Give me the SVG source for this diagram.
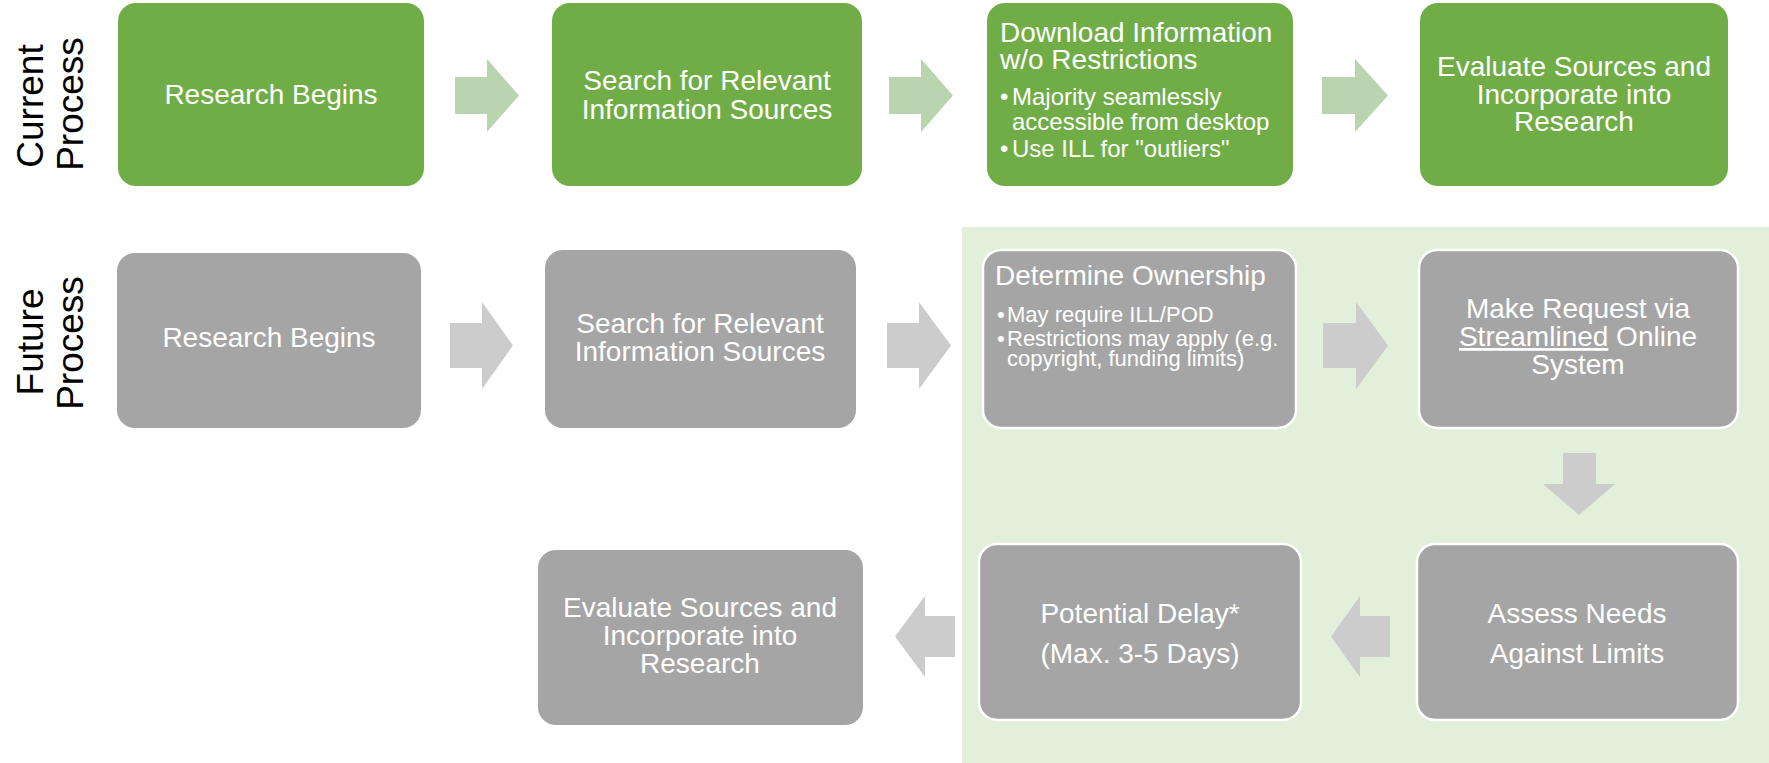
<svg xmlns="http://www.w3.org/2000/svg" width="1769" height="763" viewBox="0 0 1769 763">
<style>
text{font-family:"Liberation Sans",Arial,sans-serif;fill:#ffffff}
.lbl{fill:#000000;font-size:37px;text-anchor:middle}
.t{font-size:28px;text-anchor:middle}
.h{font-size:28px}
.b1{font-size:24px}
.b2{font-size:22px}
.g{fill:#70AD47}
.gr{fill:#A5A5A5}
.grw{fill:#A5A5A5;stroke:#ffffff;stroke-width:2.5}
.ga{fill:#BAD4AF}
.ya{fill:#CCCCCC}
</style>
<rect id="future-bg" x="962" y="227" width="807" height="536" fill="#E2EFDA"/>
<g id="labels">
<text class="lbl" transform="translate(43,106) rotate(-90)">Current</text>
<text class="lbl" transform="translate(83,104) rotate(-90)">Process</text>
<text class="lbl" transform="translate(43,342) rotate(-90)">Future</text>
<text class="lbl" transform="translate(83,343) rotate(-90)">Process</text>
</g>
<g id="connectors">
<path class="ga" d="M455,77 H487 V59 L519,95.5 L487,132 V114 H455 Z"/>
<path class="ga" d="M889,77 H921 V59 L953,95.5 L921,132 V114 H889 Z"/>
<path class="ga" d="M1322,77 H1355 V59 L1388,95.5 L1355,132 V114 H1322 Z"/>
<path class="ya" d="M450,323 H482 V302 L513,345.5 L482,389 V368 H450 Z"/>
<path class="ya" d="M887,323 H919 V302 L951,345.5 L919,389 V368 H887 Z"/>
<path class="ya" d="M1323,323 H1356 V302 L1388,345.5 L1356,389 V368 H1323 Z"/>
<path class="ya" d="M1563,453 H1596 V484 H1615 L1579,515 L1543,484 H1563 Z"/>
<path class="ya" d="M1390,616 H1360 V596 L1331,636.5 L1360,677 V657 H1390 Z"/>
<path class="ya" d="M955,616 H925 V596 L895,636.5 L925,677 V657 H955 Z"/>
</g>
<g id="c1">
<rect class="g" x="118" y="3" width="306" height="183" rx="18"/>
<text class="t" x="271" y="104">Research Begins</text>
</g>
<g id="c2">
<rect class="g" x="552" y="3" width="310" height="183" rx="18"/>
<text class="t" x="707" y="90">Search for Relevant</text>
<text class="t" x="707" y="119">Information Sources</text>
</g>
<g id="c3">
<rect class="g" x="987" y="3" width="306" height="183" rx="18"/>
<text class="h" x="1000" y="42">Download Information</text>
<text class="h" x="1000" y="69">w/o Restrictions</text>
<text class="b1" y="105"><tspan x="1000">•</tspan><tspan x="1012">Majority seamlessly</tspan></text>
<text class="b1" x="1012" y="130">accessible from desktop</text>
<text class="b1" y="157"><tspan x="1000">•</tspan><tspan x="1012">Use ILL for "outliers"</tspan></text>
</g>
<g id="c4">
<rect class="g" x="1420" y="3" width="308" height="183" rx="18"/>
<text class="t" x="1574" y="76">Evaluate Sources and</text>
<text class="t" x="1574" y="104">Incorporate into</text>
<text class="t" x="1574" y="131">Research</text>
</g>
<g id="f1">
<rect class="gr" x="117" y="253" width="304" height="175" rx="18"/>
<text class="t" x="269" y="347">Research Begins</text>
</g>
<g id="f2">
<rect class="gr" x="545" y="250" width="311" height="178" rx="18"/>
<text class="t" x="700" y="333">Search for Relevant</text>
<text class="t" x="700" y="361">Information Sources</text>
</g>
<g id="f3">
<rect class="grw" x="983" y="250" width="313" height="178" rx="18"/>
<text class="h" x="995" y="285">Determine Ownership</text>
<text class="b2" y="322"><tspan x="997">•</tspan><tspan x="1007">May require ILL/POD</tspan></text>
<text class="b2" y="346"><tspan x="997">•</tspan><tspan x="1007">Restrictions may apply (e.g.</tspan></text>
<text class="b2" x="1007" y="366">copyright, funding limits)</text>
</g>
<g id="f4">
<rect class="grw" x="1419" y="250" width="319" height="178" rx="18"/>
<text class="t" x="1578" y="318">Make Request via</text>
<text class="t" x="1578" y="346"><tspan text-decoration="underline">Streamlined</tspan> Online</text>
<text class="t" x="1578" y="374">System</text>
</g>
<g id="f5">
<rect class="grw" x="1417" y="544" width="321" height="176" rx="18"/>
<text class="t" x="1577" y="623">Assess Needs</text>
<text class="t" x="1577" y="663">Against Limits</text>
</g>
<g id="f6">
<rect class="grw" x="979" y="544" width="322" height="176" rx="18"/>
<text class="t" x="1140" y="623">Potential Delay*</text>
<text class="t" x="1140" y="663">(Max. 3-5 Days)</text>
</g>
<g id="f7">
<rect class="gr" x="538" y="550" width="325" height="175" rx="18"/>
<text class="t" x="700" y="617">Evaluate Sources and</text>
<text class="t" x="700" y="645">Incorporate into</text>
<text class="t" x="700" y="673">Research</text>
</g>
</svg>
